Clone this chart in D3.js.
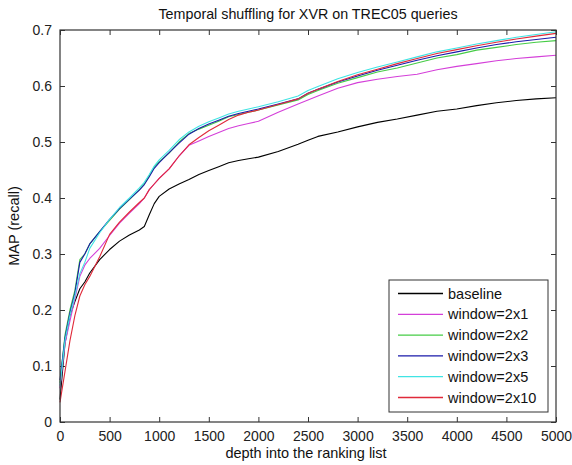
<!DOCTYPE html>
<html>
<head>
<meta charset="utf-8">
<script src="https://cdn.jsdelivr.net/npm/d3@7"></script>
<style>
  body { margin: 0; background: #fff; }
  svg { display: block; font-family: "Liberation Sans", Arial, sans-serif; }
</style>
</head>
<body>
<svg id="chart" width="572" height="465"></svg>
<script>
const depth = [0, 50, 100, 150, 200, 250, 300, 400, 500, 600, 700, 800, 850, 900, 950, 1000,
  1100, 1200, 1300, 1400, 1500, 1600, 1700, 1800, 1900, 2000, 2200, 2400, 2500, 2600, 2800,
  3000, 3200, 3400, 3600, 3800, 4000, 4200, 4400, 4600, 4800, 5000];

const baseline = [0.04, 0.14, 0.19, 0.215, 0.238, 0.25, 0.266, 0.29, 0.308, 0.323, 0.334, 0.343, 0.349, 0.37, 0.39, 0.403,
  0.416, 0.425, 0.433, 0.442, 0.449, 0.456, 0.463, 0.467, 0.470, 0.473, 0.483, 0.496, 0.503, 0.510, 0.518,
  0.527, 0.535, 0.541, 0.548, 0.555, 0.559, 0.565, 0.570, 0.574, 0.577, 0.579];

const window2x1 = [0.06, 0.14, 0.18, 0.22, 0.26, 0.28, 0.292, 0.31, 0.333, 0.355, 0.373, 0.39, 0.40, 0.415, 0.425, 0.435,
  0.452, 0.475, 0.494, 0.502, 0.51, 0.517, 0.524, 0.529, 0.533, 0.537, 0.553, 0.568, 0.575, 0.582, 0.596,
  0.606, 0.612, 0.617, 0.621, 0.629, 0.635, 0.640, 0.645, 0.649, 0.652, 0.655];

const window2x2 = [0.07, 0.155, 0.2, 0.235, 0.29, 0.30, 0.318, 0.34, 0.36, 0.38, 0.397, 0.415, 0.425, 0.44, 0.455, 0.465,
  0.48, 0.50, 0.515, 0.523, 0.53, 0.537, 0.545, 0.549, 0.553, 0.557, 0.566, 0.575, 0.585, 0.592, 0.605,
  0.615, 0.625, 0.632, 0.641, 0.650, 0.656, 0.664, 0.669, 0.674, 0.678, 0.681];

const window2x3 = [0.075, 0.15, 0.195, 0.23, 0.285, 0.30, 0.318, 0.34, 0.362, 0.381, 0.398, 0.414, 0.424, 0.438, 0.453, 0.463,
  0.481, 0.498, 0.514, 0.524, 0.532, 0.539, 0.546, 0.551, 0.555, 0.559, 0.568, 0.577, 0.587, 0.594, 0.607,
  0.618, 0.628, 0.637, 0.646, 0.654, 0.661, 0.668, 0.674, 0.679, 0.683, 0.687];

const window2x5 = [0.065, 0.145, 0.19, 0.225, 0.265, 0.285, 0.31, 0.338, 0.362, 0.383, 0.40, 0.418, 0.428, 0.442, 0.457, 0.468,
  0.485, 0.504, 0.518, 0.528, 0.536, 0.543, 0.55, 0.555, 0.559, 0.563, 0.572, 0.582, 0.592, 0.599, 0.613,
  0.624, 0.634, 0.643, 0.652, 0.661, 0.668, 0.675, 0.681, 0.687, 0.692, 0.697];

const window2x10 = [0.035, 0.09, 0.145, 0.19, 0.225, 0.245, 0.26, 0.295, 0.335, 0.357, 0.375, 0.392, 0.40, 0.415, 0.425, 0.435,
  0.452, 0.475, 0.495, 0.508, 0.52, 0.53, 0.54, 0.548, 0.553, 0.557, 0.567, 0.577, 0.587, 0.594, 0.608,
  0.620, 0.630, 0.640, 0.649, 0.658, 0.665, 0.672, 0.678, 0.684, 0.689, 0.694];

const seriesNames = ["baseline", "window=2x1", "window=2x2", "window=2x3", "window=2x5", "window=2x10"];
const seriesValues = [baseline, window2x1, window2x2, window2x3, window2x5, window2x10];
const seriesColors = ["#000000", "#d43fd9", "#46cc46", "#1a1aaa", "#40e4e4", "#e02a3a"];

const xTicks = [0, 500, 1000, 1500, 2000, 2500, 3000, 3500, 4000, 4500, 5000];
const yTicks = [0, 0.1, 0.2, 0.3, 0.4, 0.5, 0.6, 0.7];

const titleText = "Temporal shuffling for XVR on TREC05 queries";
const xLabel = "depth into the ranking list";
const yLabel = "MAP (recall)";

const margin = { left: 60, right: 16, top: 30, bottom: 43 };
const W = 572, H = 465;
const iw = W - margin.left - margin.right;
const ih = H - margin.top - margin.bottom;

const svg = d3.select("#chart");
const g = svg.append("g").attr("transform", `translate(${margin.left},${margin.top})`);

const x = d3.scaleLinear().domain([0, 5000]).range([0, iw]);
const y = d3.scaleLinear().domain([0, 0.7]).range([ih, 0]);

g.append("rect").attr("width", iw).attr("height", ih).attr("fill", "#fff");

const fmtY = d => d === 0 ? "0" : d3.format(".1f")(d);
const tickLen = 5;

const axStyle = sel => {
  sel.select(".domain").remove();
  sel.selectAll(".tick line").attr("stroke", "#333");
  sel.selectAll(".tick text").attr("fill", "#222").style("font-size", "14px");
};

// bottom
g.append("g").attr("transform", `translate(0,${ih})`)
  .call(d3.axisBottom(x).tickValues(xTicks).tickSizeInner(-tickLen).tickSizeOuter(0).tickPadding(9).tickFormat(d3.format("d")))
  .call(axStyle);
// top
g.append("g")
  .call(d3.axisTop(x).tickValues(xTicks).tickSizeInner(-tickLen).tickSizeOuter(0).tickFormat(""))
  .call(axStyle);
// left
g.append("g")
  .call(d3.axisLeft(y).tickValues(yTicks).tickSizeInner(-tickLen).tickSizeOuter(0).tickPadding(8).tickFormat(fmtY))
  .call(axStyle);
// right
g.append("g").attr("transform", `translate(${iw},0)`)
  .call(d3.axisRight(y).tickValues(yTicks).tickSizeInner(-tickLen).tickSizeOuter(0).tickFormat(""))
  .call(axStyle);

// lines
const line = d3.line().x((d, i) => x(depth[i])).y(d => y(d));
seriesValues.forEach((vals, k) => {
  g.append("path").datum(vals)
    .attr("fill", "none")
    .attr("stroke", seriesColors[k])
    .attr("stroke-width", 1.1)
    .attr("stroke-linejoin", "round")
    .attr("d", line);
});

// frame
g.append("rect").attr("width", iw).attr("height", ih)
  .attr("fill", "none").attr("stroke", "#333").attr("stroke-width", 1.2);

// title & labels
svg.append("text").attr("x", margin.left + iw / 2).attr("y", 19)
  .attr("text-anchor", "middle").style("font-size", "14.3px").attr("fill", "#111").text(titleText);
svg.append("text").attr("x", margin.left + iw / 2 - 2).attr("y", 458)
  .attr("text-anchor", "middle").style("font-size", "14.5px").attr("fill", "#111").text(xLabel);
svg.append("text").attr("transform", `translate(19,${margin.top + ih / 2}) rotate(-90)`)
  .attr("text-anchor", "middle").style("font-size", "14.5px").attr("fill", "#111").text(yLabel);

// legend
const lg = svg.append("g");
const lx = 389, ly = 280, lw = 159, lh = 132, rowH = 20.8, row0 = 13.5;
lg.append("rect").attr("x", lx).attr("y", ly).attr("width", lw).attr("height", lh)
  .attr("fill", "#fff").attr("stroke", "#333").attr("stroke-width", 1);
seriesNames.forEach((name, k) => {
  const yy = ly + row0 + k * rowH;
  lg.append("line").attr("x1", lx + 9).attr("x2", lx + 54).attr("y1", yy).attr("y2", yy)
    .attr("stroke", seriesColors[k]).attr("stroke-width", 1.3);
  lg.append("text").attr("x", lx + 59).attr("y", yy).attr("dy", "0.35em")
    .style("font-size", "14.5px").attr("fill", "#111").text(name);
});
</script>
</body>
</html>
